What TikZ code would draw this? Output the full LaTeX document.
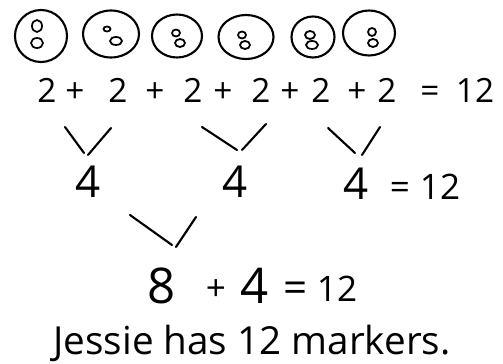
\documentclass[tikz,border=0pt]{standalone}
\usepackage{fontspec}
\setmainfont{Open Sans}
\usetikzlibrary{shapes.geometric}

\begin{document}
\begin{tikzpicture}[
    x=0.02cm, y=-0.02cm,
    ink/.style={line width=1.2pt, line cap=round, line join=round},
    bag/.style={draw, ink, ellipse, inner sep=0pt},
    marker/.style={draw, line width=1pt, ellipse, inner sep=0pt},
    sum/.style={anchor=base, inner sep=0pt, font=\fontsize{19}{22}\selectfont},
    part/.style={anchor=base, inner sep=0pt, font=\fontsize{25}{28}\selectfont},
    total/.style={anchor=base, inner sep=0pt, font=\fontsize{28}{30}\selectfont},
    res/.style={anchor=base, inner sep=0pt, font=\fontsize{20}{22}\selectfont},
    note/.style={anchor=base, inner sep=0pt, font=\fontsize{22}{24}\selectfont}
  ]

    \useasboundingbox (0,0) rectangle (503,364);

    %% ── bags of markers ──
    \foreach \x/\y/\w/\h [count=\i] in {41/36/52/52, 111/34/56/47, 177/36/50/43,
                                        246/37/55/44, 313/37/43/41, 369/33/52/45}
      \node[bag, minimum width=\w*0.02cm, minimum height=\h*0.02cm] (b\i) at (\x,\y) {};

    %% ── two markers in every bag ──
    \foreach \x/\y/\w/\h [count=\i] in {37/26/10/12, 37/43/12/10, 107/29/7/5, 116/41/12/8,
                                        176/33/8/7, 180/43/10/8, 242/35/8/7, 245/45/10/8,
                                        310/35/10/8, 312/45/12/8, 372/32/8/8, 373/43/10/8}
      \node[marker, minimum width=\w*0.02cm, minimum height=\h*0.02cm] (m\i) at (\x,\y) {};

    %% ── repeated addition ──
    \foreach \x/\t [count=\i] in {47/2, 75/+, 118/2, 155/+, 193/2, 223/+, 261/2,
                                  290/+, 321/2, 357/+, 387/2, 430/=, 475/12}
      \node[sum] (s\i) at (\x,103) {\t};

    %% ── pairs grouped ──
    \draw[ink] (65,127) -- (84,153) (88,155) -- (111,128);
    \draw[ink] (202,127) -- (237,150) (242,150) -- (266,124);
    \draw[ink] (328,128) -- (355,153) (362,155) -- (380,127);

    \node[part] (p1) at (88,198) {4};
    \node[part] (p2) at (235,198) {4};
    \node[part] (p3) at (356,200) {4};
    \node[res] (e1) at (400,200) {=};
    \node[res] (r1) at (440,200) {12};

    %% ── first two fours grouped ──
    \draw[ink] (130,215) -- (172,245) (176,247) -- (196,217);

    \node[total] (t1) at (162,303) {8};
    \node[res] (t2) at (216,300) {+};
    \node[total] (t3) at (255,303) {4};
    \node[res, font=\fontsize{24}{26}\selectfont] (t4) at (296,302) {=};
    \node[res] (t5) at (337,301) {12};

    %% ── answer ──
    \node[note] (ans) at (252,354) {Jessie has 12 markers.};

\end{tikzpicture}
\end{document}
